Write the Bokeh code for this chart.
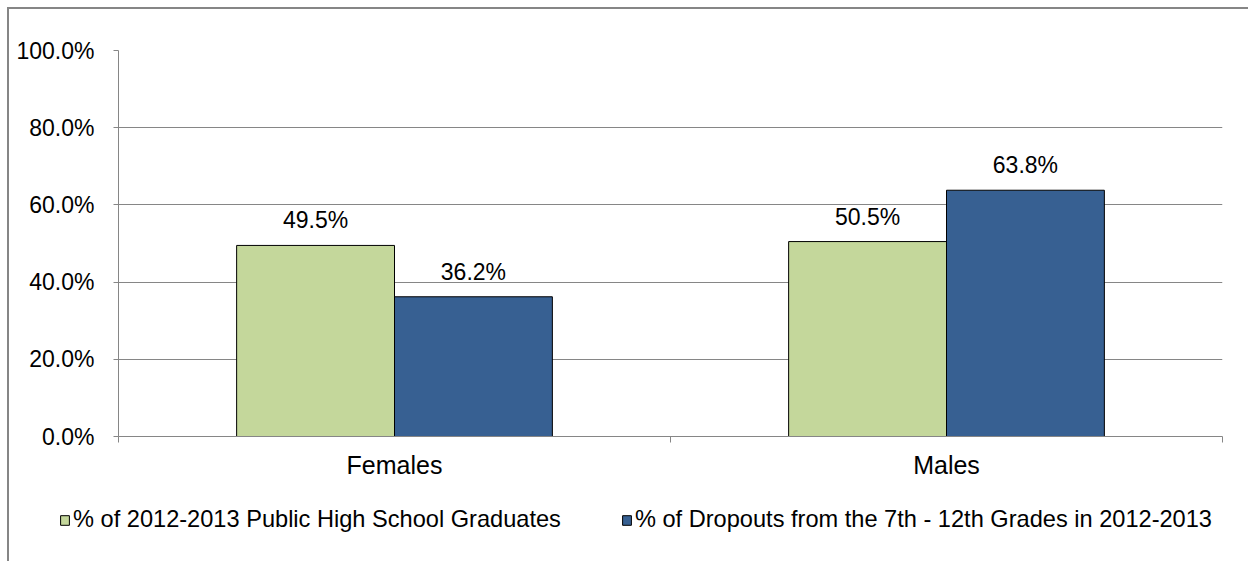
from bokeh.plotting import figure
from bokeh.layouts import column
from bokeh.models import Range1d, FixedTicker, ColumnDataSource, LabelSet, Legend, LegendItem
from bokeh.core.properties import value
from bokeh.embed import file_html
from bokeh.resources import INLINE

categories = ["Females", "Males"]
series_names = ["% of 2012-2013 Public High School Graduates",
                "% of Dropouts from the 7th - 12th Grades in 2012-2013"]
graduates = [49.5, 50.5]
dropouts = [36.2, 63.8]
y_ticks = [0, 20, 40, 60, 80, 100]
y_tick_labels = ["0.0%", "20.0%", "40.0%", "60.0%", "80.0%", "100.0%"]
colors = ["#C4D79B", "#376092"]

FONT = "Liberation Sans"
GRAY = "#868686"
bar_w = 0.286

centers = [i + 0.5 for i in range(len(categories))]
src_g = ColumnDataSource(dict(x=[c - bar_w / 2 for c in centers], y=graduates,
                              lab=["%.1f%%" % v for v in graduates]))
src_d = ColumnDataSource(dict(x=[c + bar_w / 2 for c in centers], y=dropouts,
                              lab=["%.1f%%" % v for v in dropouts]))

p = figure(frame_width=1104, frame_height=386, output_backend="svg", toolbar_location=None,
           x_range=Range1d(0, len(categories)), y_range=Range1d(0, 100),
           min_border_left=109, min_border_right=26, min_border_top=41, min_border_bottom=43)
p.frame_align = False
p.outline_line_color = None
p.background_fill_color = "white"
p.border_fill_color = "white"

r1 = p.vbar(x="x", top="y", width=bar_w, source=src_g, fill_color=colors[0],
            line_color="black", line_width=1)
r2 = p.vbar(x="x", top="y", width=bar_w, source=src_d, fill_color=colors[1],
            line_color="black", line_width=1)

for s in (src_g, src_d):
    p.add_layout(LabelSet(x="x", y="y", text="lab", source=s, text_align="center",
                          text_baseline="alphabetic", y_offset=17,
                          text_font=value(FONT), text_font_size=value("23px"),
                          text_color="black"))

# Y axis
p.yaxis.ticker = FixedTicker(ticks=y_ticks)
p.yaxis.major_label_overrides = {t: l for t, l in zip(y_ticks, y_tick_labels)}
p.yaxis.major_label_text_font = FONT
p.yaxis.major_label_text_font_size = "23px"
p.yaxis.major_label_text_color = "black"
p.yaxis.major_label_standoff = 19
p.yaxis.axis_line_color = GRAY
p.yaxis.major_tick_line_color = GRAY
p.yaxis.major_tick_out = 5
p.yaxis.major_tick_in = 0
p.yaxis.minor_tick_line_color = None

# X axis
p.xaxis.ticker = FixedTicker(ticks=centers, minor_ticks=list(range(len(categories) + 1)))
p.xaxis.major_label_overrides = {c: n for c, n in zip(centers, categories)}
p.xaxis.major_label_text_font = FONT
p.xaxis.major_label_text_font_size = "25px"
p.xaxis.major_label_text_color = "black"
p.xaxis.major_label_standoff = 8
p.xaxis.axis_line_color = GRAY
p.xaxis.major_tick_line_color = None
p.xaxis.major_tick_out = 0
p.xaxis.major_tick_in = 0
p.xaxis.minor_tick_line_color = GRAY
p.xaxis.minor_tick_out = 6
p.xaxis.minor_tick_in = 0

p.xgrid.grid_line_color = None
p.ygrid.ticker = FixedTicker(ticks=y_ticks)
p.ygrid.grid_line_color = GRAY
p.ygrid.grid_line_width = 1

# Legend strip (separate figure so it can sit left of the plot frame)
lf = figure(width=1239, height=80, output_backend="svg", toolbar_location=None,
            x_range=Range1d(0, 1), y_range=Range1d(0, 1),
            x_axis_location=None, y_axis_location=None,
            min_border_left=0, min_border_right=0, min_border_top=0, min_border_bottom=0)
lf.frame_align = False
lf.outline_line_color = None
lf.xgrid.grid_line_color = None
lf.ygrid.grid_line_color = None
lf.border_fill_color = "white"
# legend proxies placed outside the visible range
g1 = lf.vbar(x=[5], top=[1], width=0.1, fill_color=colors[0], line_color="black", line_width=1)
g2 = lf.vbar(x=[5], top=[1], width=0.1, fill_color=colors[1], line_color="black", line_width=1)

legend = Legend(items=[LegendItem(label=series_names[0], renderers=[g1]),
                       LegendItem(label=series_names[1], renderers=[g2])],
                orientation="horizontal", location=(50, 28),
                glyph_width=11, glyph_height=12, label_standoff=3, spacing=60,
                padding=0, margin=0, border_line_color=None, background_fill_alpha=0,
                label_text_font=FONT, label_text_font_size="23.6px", label_text_color="black")
lf.add_layout(legend, "center")

layout = column(p, lf, spacing=0)
layout.styles = {"border-top": "2px solid #868686", "border-left": "2px solid #868686",
                 "margin-left": "7px", "margin-top": "7px"}

open("out.html", "w").write(file_html(layout, INLINE))
